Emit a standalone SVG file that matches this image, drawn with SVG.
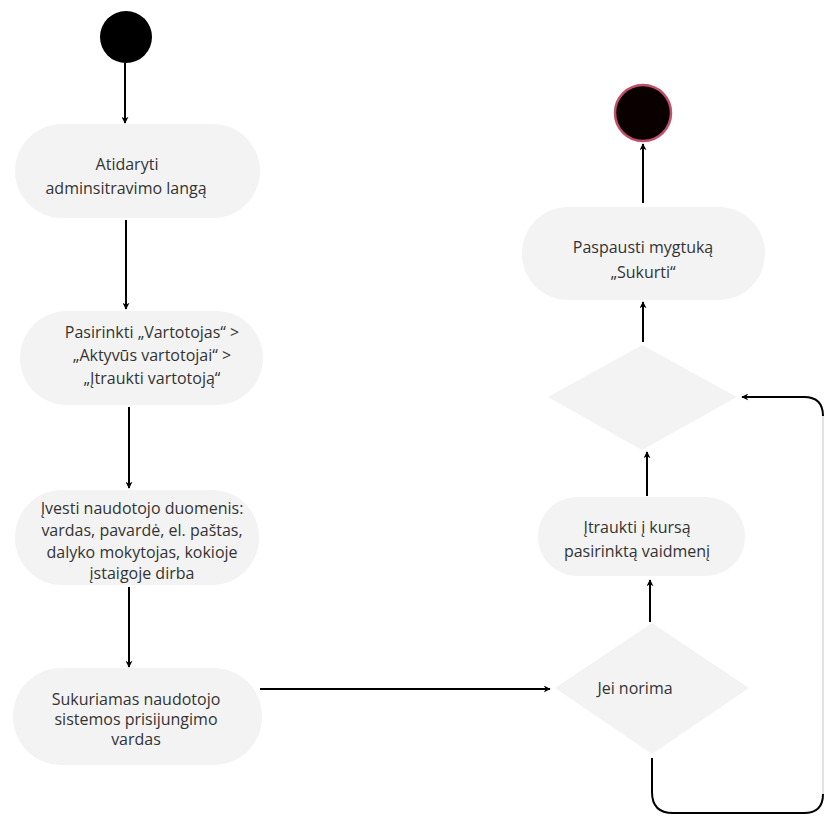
<svg xmlns="http://www.w3.org/2000/svg" width="826" height="816" viewBox="0 0 826 816">
<style>
.node{fill:#f3f3f3}
.t{font-family:"Open Sans","Noto Sans","Liberation Sans",sans-serif;font-size:16px;fill:#333;text-anchor:middle}
.c{stroke:#000;stroke-width:2;fill:none}
</style>
<defs>
<marker id="ah" viewBox="0 0 10 10" refX="9" refY="5" markerWidth="7" markerHeight="7" orient="auto" markerUnits="userSpaceOnUse">
<path d="M0,0 L10,5 L0,10 L3,5 z" fill="#000"/>
</marker>
</defs>
<rect width="826" height="816" fill="#fff"/>
<g id="start"><circle cx="126" cy="37" r="26" fill="#000"/></g>
<g id="n1"><rect class="node" x="15" y="124" width="245" height="94" rx="47"/>
<text class="t" x="127" y="170">Atidaryti</text><text class="t" x="126" y="194">adminsitravimo langą</text></g>
<g id="n2"><rect class="node" x="20" y="311" width="243" height="94" rx="47"/>
<text class="t" x="152" y="338">Pasirinkti „Vartotojas“ &gt;</text><text class="t" x="152" y="361">„Aktyvūs vartotojai“ &gt;</text><text class="t" x="152" y="384">„Įtraukti vartotoją“</text></g>
<g id="n3"><rect class="node" x="15" y="490" width="244" height="95" rx="47"/>
<text class="t" x="142" y="514">Įvesti naudotojo duomenis:</text><text class="t" x="142" y="536">vardas, pavardė, el. paštas,</text><text class="t" x="142" y="558">dalyko mokytojas, kokioje</text><text class="t" x="142" y="579">įstaigoje dirba</text></g>
<g id="n4"><rect class="node" x="13" y="668" width="249" height="97" rx="48"/>
<text class="t" x="136" y="705">Sukuriamas naudotojo</text><text class="t" x="136" y="725">sistemos prisijungimo</text><text class="t" x="136" y="745">vardas</text></g>
<g id="d1"><polygon class="node" points="652,623 749,688 652,754 555,688"/>
<text class="t" x="635" y="694">Jei norima</text></g>
<g id="n5"><rect class="node" x="538" y="497" width="207" height="79" rx="39"/>
<text class="t" x="637" y="533">Įtraukti į kursą</text><text class="t" x="637" y="557">pasirinktą vaidmenį</text></g>
<g id="d2"><polygon class="node" points="642,345 737,397 642,450 548,397"/></g>
<g id="n6"><rect class="node" x="522" y="207" width="243" height="93" rx="46"/>
<text class="t" x="643" y="253">Paspausti mygtuką</text><text class="t" x="643" y="278">„Sukurti“</text></g>
<g id="end"><circle cx="643" cy="113" r="28" fill="#0a0000" stroke="#c0506a" stroke-width="2.5"/></g>
<g id="connectors">
<line class="c" x1="125" y1="63" x2="125" y2="123" marker-end="url(#ah)"/>
<line class="c" x1="126" y1="220" x2="126" y2="309" marker-end="url(#ah)"/>
<line class="c" x1="129" y1="407" x2="129" y2="488" marker-end="url(#ah)"/>
<line class="c" x1="129" y1="587" x2="129" y2="667" marker-end="url(#ah)"/>
<line class="c" x1="260" y1="689" x2="550" y2="689" marker-end="url(#ah)"/>
<line class="c" x1="650" y1="622" x2="650" y2="580" marker-end="url(#ah)"/>
<line class="c" x1="647" y1="496" x2="647" y2="452" marker-end="url(#ah)"/>
<line class="c" x1="643" y1="342" x2="643" y2="302" marker-end="url(#ah)"/>
<line class="c" x1="643" y1="203" x2="643" y2="144" marker-end="url(#ah)"/>
<path class="c" d="M652,758 L652,792 Q652,813 673,813 L804,813 Q823,813 823,794"/>
<path d="M823,794 L823,416" stroke="#d8d8d8" stroke-width="1.5" fill="none"/>
<path class="c" d="M823,416 Q823,397 804,397 L742,397" marker-end="url(#ah)"/>
</g>
</svg>
